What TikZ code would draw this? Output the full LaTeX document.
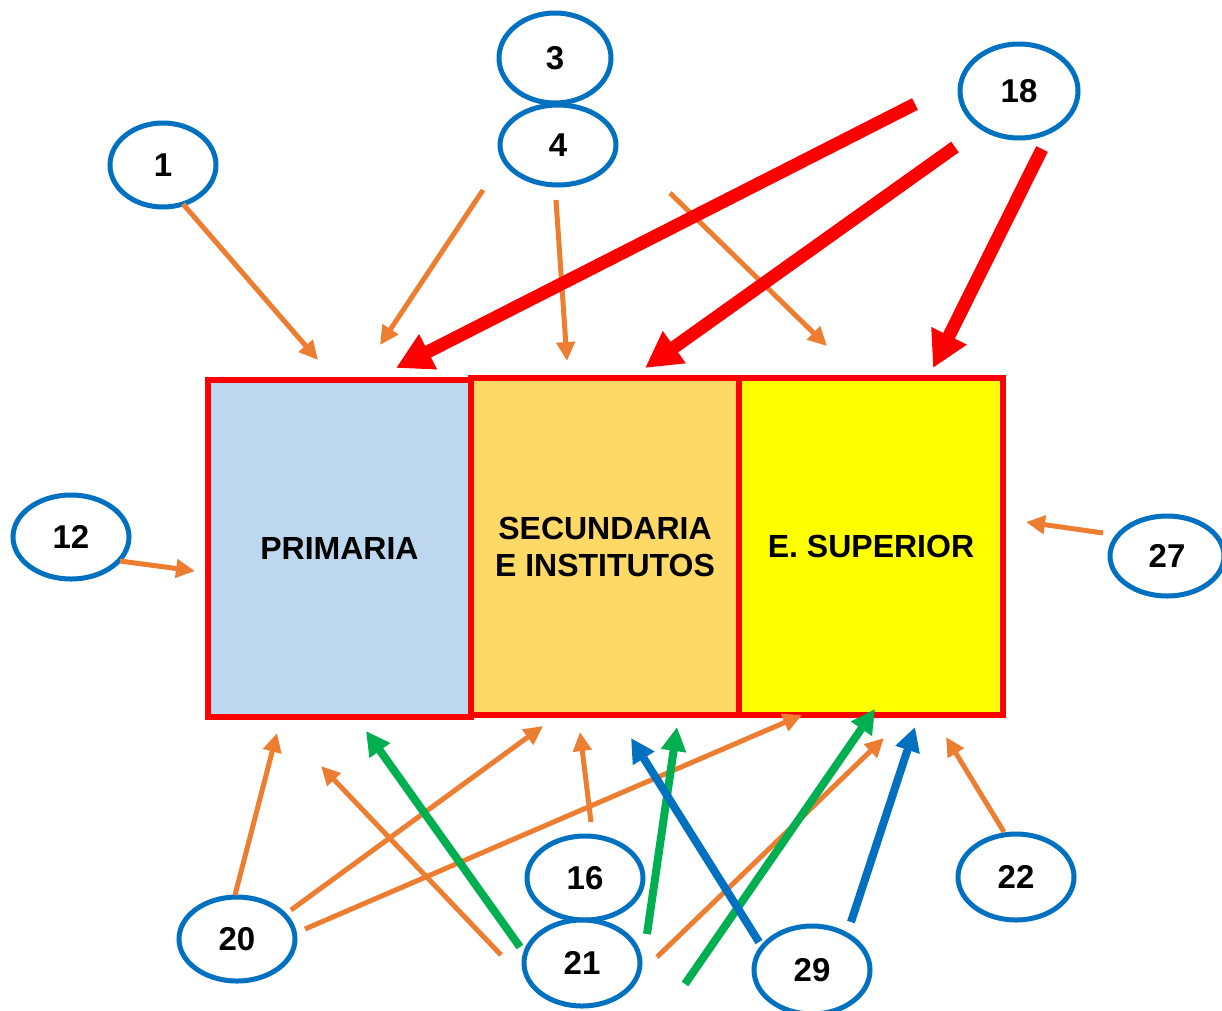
\documentclass[tikz,border=0pt]{standalone}
\usepackage{fontspec}
\setmainfont{Liberation Sans}
\usetikzlibrary{shapes.geometric,arrows.meta}
\definecolor{corange}{HTML}{ED7D31}
\definecolor{cred}{HTML}{FF0000}
\definecolor{cgreen}{HTML}{00B050}
\definecolor{cblue}{HTML}{0070C0}
\definecolor{cprim}{HTML}{BDD7EE}
\definecolor{csec}{HTML}{FFD966}
\definecolor{csup}{HTML}{FFFF00}
\tikzset{
  numell/.style={ellipse, draw=cblue, line width=5pt, fill=white, inner sep=0pt,
    minimum width=#1, text depth=0pt, font=\bfseries\fontsize{33}{36}\selectfont},
  levelbox/.style={rectangle, draw=cred, line width=5.5pt, inner sep=0pt,
    minimum height=337pt, align=center, font=\bfseries\fontsize{32}{37}\selectfont},
  oarrow/.style={draw=corange, line width=5pt, -{Triangle[length=19pt,width=18pt]}},
  rarrow/.style={draw=cred, line width=13pt, -{Triangle[length=36pt,width=37pt]}},
  garrow/.style={draw=cgreen, line width=8pt, -{Triangle[length=24pt,width=24pt]}},
  barrow/.style={draw=cblue, line width=8pt, -{Triangle[length=24pt,width=24pt]}},
}
\begin{document}
\begin{tikzpicture}[x=1pt,y=-1pt]
\useasboundingbox (0,0) rectangle (1222,1010);
% boxes
\node[levelbox, fill=cprim, minimum width=263pt] (prim) at (339.5,548.5) {PRIMARIA};
\node[levelbox, fill=csec, minimum width=268pt] (sec) at (605,546.5) {SECUNDARIA\\E INSTITUTOS};
\node[levelbox, fill=csup, minimum width=264pt] (sup) at (871,546.5) {E. SUPERIOR};
% ellipses
\node[numell=106pt, minimum height=84pt] (e1) at (163,165) {1};
\node[numell=112pt, minimum height=90pt] (e3) at (555,58) {3};
\node[numell=116pt, minimum height=80pt] (e4) at (558,145) {4};
\node[numell=118pt, minimum height=94pt] (e18) at (1019,91) {18};
\node[numell=116pt, minimum height=84pt] (e12) at (71,537) {12};
\node[numell=114pt, minimum height=80pt] (e27) at (1167,556) {27};
\node[numell=116pt, minimum height=84pt] (e20) at (237,939) {20};
\node[numell=116pt, minimum height=84pt] (e16) at (585,878) {16};
\node[numell=116pt, minimum height=86pt] (e21) at (582,963) {21};
\node[numell=116pt, minimum height=88pt] (e29) at (812,970) {29};
\node[numell=116pt, minimum height=86pt] (e22) at (1016,877) {22};
% connector end points
\coordinate (s1) at (183,204);   \coordinate (t1) at (318,360);
\coordinate (sa) at (483,190);   \coordinate (ta) at (380,345);
\coordinate (s4) at (556,200);   \coordinate (t4) at (567,361);
\coordinate (sb) at (670,193);   \coordinate (tb) at (827,346);
\coordinate (s12) at (120,561);  \coordinate (t12) at (195,571);
\coordinate (s27) at (1103,533); \coordinate (t27) at (1026,522);
\coordinate (s20a) at (235,895); \coordinate (t20a) at (277,733);
\coordinate (s20b) at (291,910); \coordinate (t20b) at (543,726);
\coordinate (s20c) at (305,929); \coordinate (t20c) at (802,715);
\coordinate (s21a) at (501,955); \coordinate (t21a) at (321,766);
\coordinate (s16) at (591,822);  \coordinate (t16) at (580,732);
\coordinate (s21b) at (657,957); \coordinate (t21b) at (884,738);
\coordinate (s22) at (1004,832); \coordinate (t22) at (946,737);
\coordinate (r1s) at (915,104);  \coordinate (r1t) at (396,368);
\coordinate (r2s) at (955,147);  \coordinate (r2t) at (645,368);
\coordinate (r3s) at (1042,149); \coordinate (r3t) at (933,368);
\coordinate (g1s) at (520,947);  \coordinate (g1t) at (366,731);
\coordinate (g2s) at (647,934);  \coordinate (g2t) at (677,727);
\coordinate (g3s) at (685,984);  \coordinate (g3t) at (875,709);
\coordinate (b1s) at (759,942);  \coordinate (b1t) at (631,738);
\coordinate (b2s) at (851,922);  \coordinate (b2t) at (915,727);
% orange arrows
\draw[oarrow] (s1) -- (t1);
\draw[oarrow] (sa) -- (ta);
\draw[oarrow] (s4) -- (t4);
\draw[oarrow] (sb) -- (tb);
\draw[oarrow] (s12) -- (t12);
\draw[oarrow] (s27) -- (t27);
\draw[oarrow] (s20a) -- (t20a);
\draw[oarrow] (s20b) -- (t20b);
\draw[oarrow] (s20c) -- (t20c);
\draw[oarrow] (s21a) -- (t21a);
\draw[oarrow] (s16) -- (t16);
\draw[oarrow] (s21b) -- (t21b);
\draw[oarrow] (s22) -- (t22);
% red arrows
\draw[rarrow] (r1s) -- (r1t);
\draw[rarrow] (r2s) -- (r2t);
\draw[rarrow] (r3s) -- (r3t);
% green arrows
\draw[garrow] (g1s) -- (g1t);
\draw[garrow] (g2s) -- (g2t);
\draw[garrow] (g3s) -- (g3t);
% blue arrows
\draw[barrow] (b1s) -- (b1t);
\draw[barrow] (b2s) -- (b2t);
\end{tikzpicture}
\end{document}
